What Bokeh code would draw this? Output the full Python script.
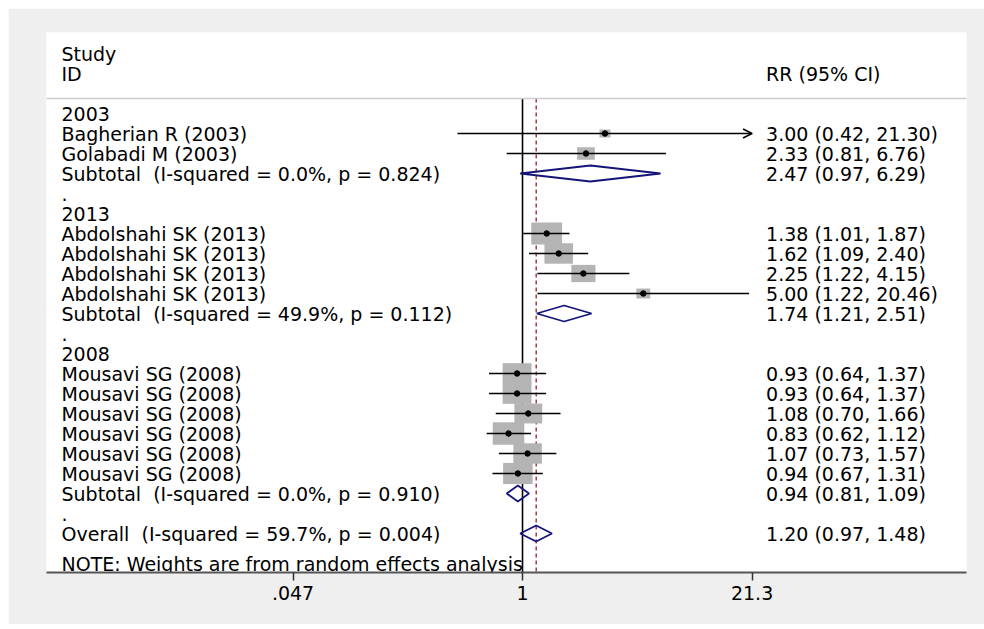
import math
from bokeh.plotting import figure
from bokeh.models import Range1d, FixedTicker, Span, Arrow, OpenHead
from bokeh.core.properties import value
from bokeh.embed import file_html
from bokeh.resources import INLINE

# ---------------- data ----------------
group_names = ["2003", "2013", "2008"]
studies = ["Bagherian R (2003)", "Golabadi M (2003)",
           "Abdolshahi SK (2013)", "Abdolshahi SK (2013)",
           "Abdolshahi SK (2013)", "Abdolshahi SK (2013)",
           "Mousavi SG (2008)", "Mousavi SG (2008)", "Mousavi SG (2008)",
           "Mousavi SG (2008)", "Mousavi SG (2008)", "Mousavi SG (2008)"]
study_group = ["2003", "2003", "2013", "2013", "2013", "2013",
               "2008", "2008", "2008", "2008", "2008", "2008"]
rr = [3.00, 2.33, 1.38, 1.62, 2.25, 5.00, 0.93, 0.93, 1.08, 0.83, 1.07, 0.94]
ci_lo = [0.42, 0.81, 1.01, 1.09, 1.22, 1.22, 0.64, 0.64, 0.70, 0.62, 0.73, 0.67]
ci_hi = [21.30, 6.76, 1.87, 2.40, 4.15, 20.46, 1.37, 1.37, 1.66, 1.12, 1.57, 1.31]
weights = [1.48, 3.83, 11.75, 10.07, 7.21, 2.40, 10.28, 10.28, 9.58, 12.28, 10.07, 10.78]

sub_rr = [2.47, 1.74, 0.94]
sub_lo = [0.97, 1.21, 0.81]
sub_hi = [6.29, 2.51, 1.09]
sub_i2 = ["0.0%", "49.9%", "0.0%"]
sub_p = ["0.824", "0.112", "0.910"]

overall_rr, overall_lo, overall_hi = 1.20, 0.97, 1.48
overall_i2, overall_p = "59.7%", "0.004"

tick_values = [0.047, 1, 21.3]
tick_labels = [".047", "1", "21.3"]
header_left = ["Study", "ID"]
header_right = "RR (95% CI)"
note_text = "NOTE: Weights are from random effects analysis"

# ---------------- layout constants ----------------
X_MIN, X_MAX = 0.00176, 370.8
Y_TOP, Y_BOTTOM = -4.05, 22.95
SEP_ROW = -0.75
FONT = value("DejaVu Sans")
FSIZE = "19px"
BOX_K = 9.0
BOX_ASPECT = 1.4
DIAMOND_H = 0.4
NAVY = "#14147a"
CI_W = 1.7


def fmt(e, l, h):
    return f"{e:.2f} ({l:.2f}, {h:.2f})"


# ---------------- build rows ----------------
left_text, left_y = list(header_left), [-3, -2]
right_text, right_y = [header_right], [-2]
study_rows = [None] * len(studies)
sub_rows = []
row = 0
for gi, g in enumerate(group_names):
    left_text.append(g); left_y.append(row); row += 1
    for i, s in enumerate(studies):
        if study_group[i] == g:
            study_rows[i] = row
            left_text.append(s); left_y.append(row)
            right_text.append(fmt(rr[i], ci_lo[i], ci_hi[i])); right_y.append(row)
            row += 1
    sub_rows.append(row)
    left_text.append(f"Subtotal\u00a0 (I-squared = {sub_i2[gi]}, p = {sub_p[gi]})")
    left_y.append(row)
    right_text.append(fmt(sub_rr[gi], sub_lo[gi], sub_hi[gi])); right_y.append(row)
    row += 1
    left_text.append("."); left_y.append(row); row += 1
overall_row = row
left_text.append(f"Overall\u00a0 (I-squared = {overall_i2}, p = {overall_p})")
left_y.append(overall_row)
right_text.append(fmt(overall_rr, overall_lo, overall_hi)); right_y.append(overall_row)
left_text.append(note_text); left_y.append(overall_row + 1.5)

# ---------------- figure ----------------
p = figure(width=976, height=616, x_axis_type="log",
           x_range=Range1d(X_MIN, X_MAX), y_range=Range1d(Y_BOTTOM, Y_TOP),
           output_backend="svg", toolbar_location=None, y_axis_location=None,
           min_border_left=38, min_border_right=18, min_border_top=24,
           min_border_bottom=52, background_fill_color="white",
           border_fill_color="#efefef", outline_line_color=None,
           margin=(8, 0, 0, 8))
p.xgrid.visible = False
p.ygrid.visible = False

ax = p.xaxis[0]
ax.ticker = FixedTicker(ticks=tick_values)
ax.major_label_overrides = dict(zip(tick_values, tick_labels))
ax.axis_line_color = "#555555"
ax.axis_line_width = 2
ax.major_tick_line_color = "#333333"
ax.major_tick_line_width = 1.5
ax.major_tick_out = 8
ax.major_tick_in = 0
ax.minor_tick_line_color = None
ax.major_label_text_font = "DejaVu Sans"
ax.major_label_text_font_size = FSIZE
ax.major_label_text_color = "black"
ax.major_label_standoff = 5

# header separator
p.add_layout(Span(location=SEP_ROW, dimension="width", line_color="#cccccc", line_width=1.5))

# null line and overall line
p.segment(x0=[1], y0=[SEP_ROW], x1=[1], y1=[Y_BOTTOM], line_color="black", line_width=1.6)
p.segment(x0=[overall_rr], y0=[SEP_ROW], x1=[overall_rr], y1=[Y_BOTTOM],
          line_color="#9a2f38", line_width=1.4, line_dash="4 3")

# weight boxes
box_w = [BOX_K * math.sqrt(w) for w in weights]
box_h = [b / BOX_ASPECT for b in box_w]
p.rect(x=rr, y=study_rows, width=box_w, height=box_h, width_units="screen",
       height_units="screen", fill_color="#b4b4b4", line_color=None)

# CI lines
seg_x0, seg_x1, seg_y = [], [], []
for i in range(len(rr)):
    if ci_hi[i] >= tick_values[-1]:
        p.add_layout(Arrow(end=OpenHead(size=9, line_color="black", line_width=CI_W),
                           x_start=ci_lo[i], y_start=study_rows[i],
                           x_end=tick_values[-1], y_end=study_rows[i],
                           line_color="black", line_width=CI_W))
    else:
        seg_x0.append(ci_lo[i]); seg_x1.append(ci_hi[i]); seg_y.append(study_rows[i])
p.segment(x0=seg_x0, y0=seg_y, x1=seg_x1, y1=seg_y, line_color="black", line_width=CI_W)

# point estimates
p.scatter(x=rr, y=study_rows, size=5.5, color="black")

# diamonds
d_est = sub_rr + [overall_rr]
d_lo = sub_lo + [overall_lo]
d_hi = sub_hi + [overall_hi]
d_rows = sub_rows + [overall_row]
xs = [[l, e, h, e] for l, e, h in zip(d_lo, d_est, d_hi)]
ys = [[r, r - DIAMOND_H, r, r + DIAMOND_H] for r in d_rows]
p.patches(xs=xs, ys=ys, fill_alpha=0, line_color=NAVY, line_width=1.8)

# texts
p.text(x=[X_MIN] * len(left_text), y=left_y, text=left_text, x_offset=15,
       text_font=FONT, text_font_size=FSIZE, text_baseline="middle",
       text_align="left", text_color="black")
p.text(x=[tick_values[-1]] * len(right_text), y=right_y, text=right_text, x_offset=14,
       text_font=FONT, text_font_size=FSIZE, text_baseline="middle",
       text_align="left", text_color="black")

open("out.html", "w").write(file_html(p, INLINE))
